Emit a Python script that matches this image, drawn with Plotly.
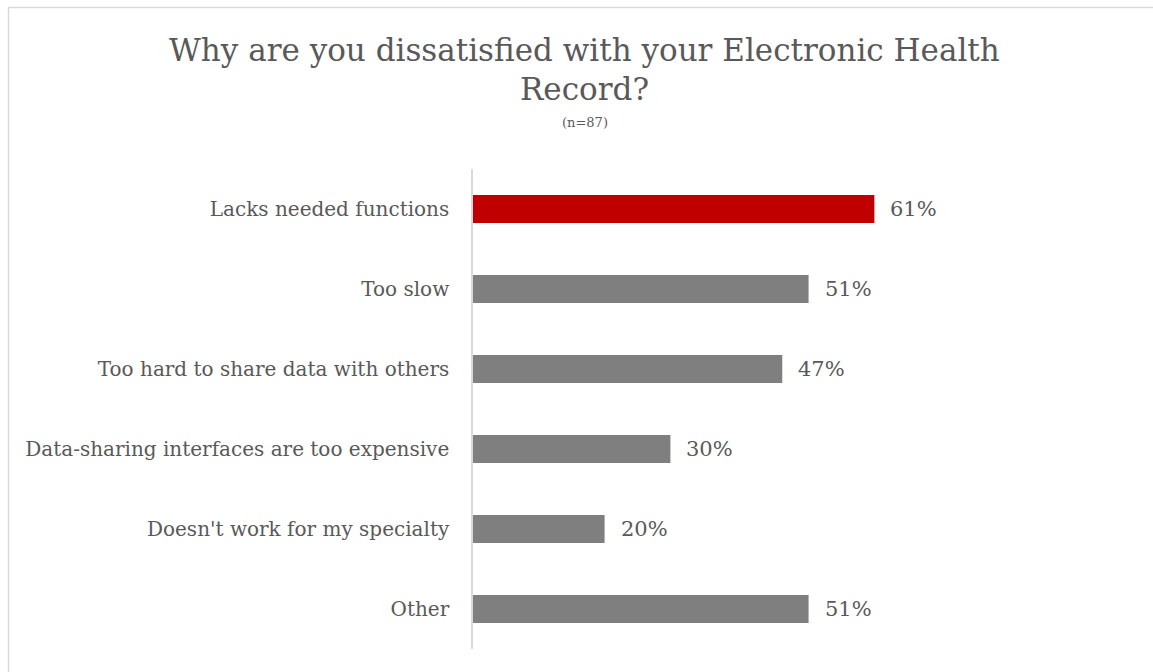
import plotly.graph_objects as go

categories = ["Lacks needed functions", "Too slow", "Too hard to share data with others",
              "Data-sharing interfaces are too expensive", "Doesn't work for my specialty", "Other"]
values = [61, 51, 47, 30, 20, 51]
colors = ["#C00000", "#7F7F7F", "#7F7F7F", "#7F7F7F", "#7F7F7F", "#7F7F7F"]
value_labels = ["61%", "51%", "47%", "30%", "20%", "51%"]

FONT = "DejaVu Serif"
TXT = "#595959"

W, H = 1153, 672
ml, mr, mt, mb = 473, 22, 169, 23
pw, ph = W - ml - mr, H - mt - mb

fig = go.Figure(go.Bar(
    y=categories, x=values, orientation="h",
    marker=dict(color=colors, line=dict(width=0)),
    width=0.35, hoverinfo="skip",
))

for c, v, t in zip(categories, values, value_labels):
    fig.add_annotation(x=v, y=c, text=t, showarrow=False, xanchor="left", xshift=14,
                       font=dict(family=FONT, size=21, color=TXT))

def px(xp):
    return (xp - ml) / pw

def py(yp):
    return (H - mb - yp) / ph

fig.add_annotation(xref="paper", yref="paper", x=px(584), y=py(50), text="Why are you dissatisfied with your Electronic Health",
                   showarrow=False, font=dict(family=FONT, size=31, color=TXT), xanchor="center", yanchor="middle")
fig.add_annotation(xref="paper", yref="paper", x=px(584), y=py(89), text="Record?",
                   showarrow=False, font=dict(family=FONT, size=31, color=TXT), xanchor="center", yanchor="middle")
fig.add_annotation(xref="paper", yref="paper", x=px(585), y=py(123), text="(n=87)",
                   showarrow=False, font=dict(family=FONT, size=13, color=TXT), xanchor="center", yanchor="middle")

fig.add_shape(type="rect", xref="paper", yref="paper", x0=px(8.5), x1=px(1160), y0=py(7.5), y1=py(700),
              line=dict(color="#D9D9D9", width=1.5), fillcolor="rgba(0,0,0,0)", layer="below")

fig.update_layout(
    width=W, height=H,
    margin=dict(l=ml, r=mr, t=mt, b=mb, autoexpand=False),
    paper_bgcolor="white", plot_bgcolor="white",
    showlegend=False,
    bargap=0.65,
    xaxis=dict(range=[0, 100], visible=False, fixedrange=True),
    yaxis=dict(autorange="reversed", showline=True, linecolor="#D9D9D9", linewidth=1.5,
               showgrid=False, zeroline=False, ticks="", ticklabelstandoff=18,
               tickfont=dict(family=FONT, size=20, color=TXT), fixedrange=True),
)

fig.write_html("out.html", config={"displayModeBar": False})
